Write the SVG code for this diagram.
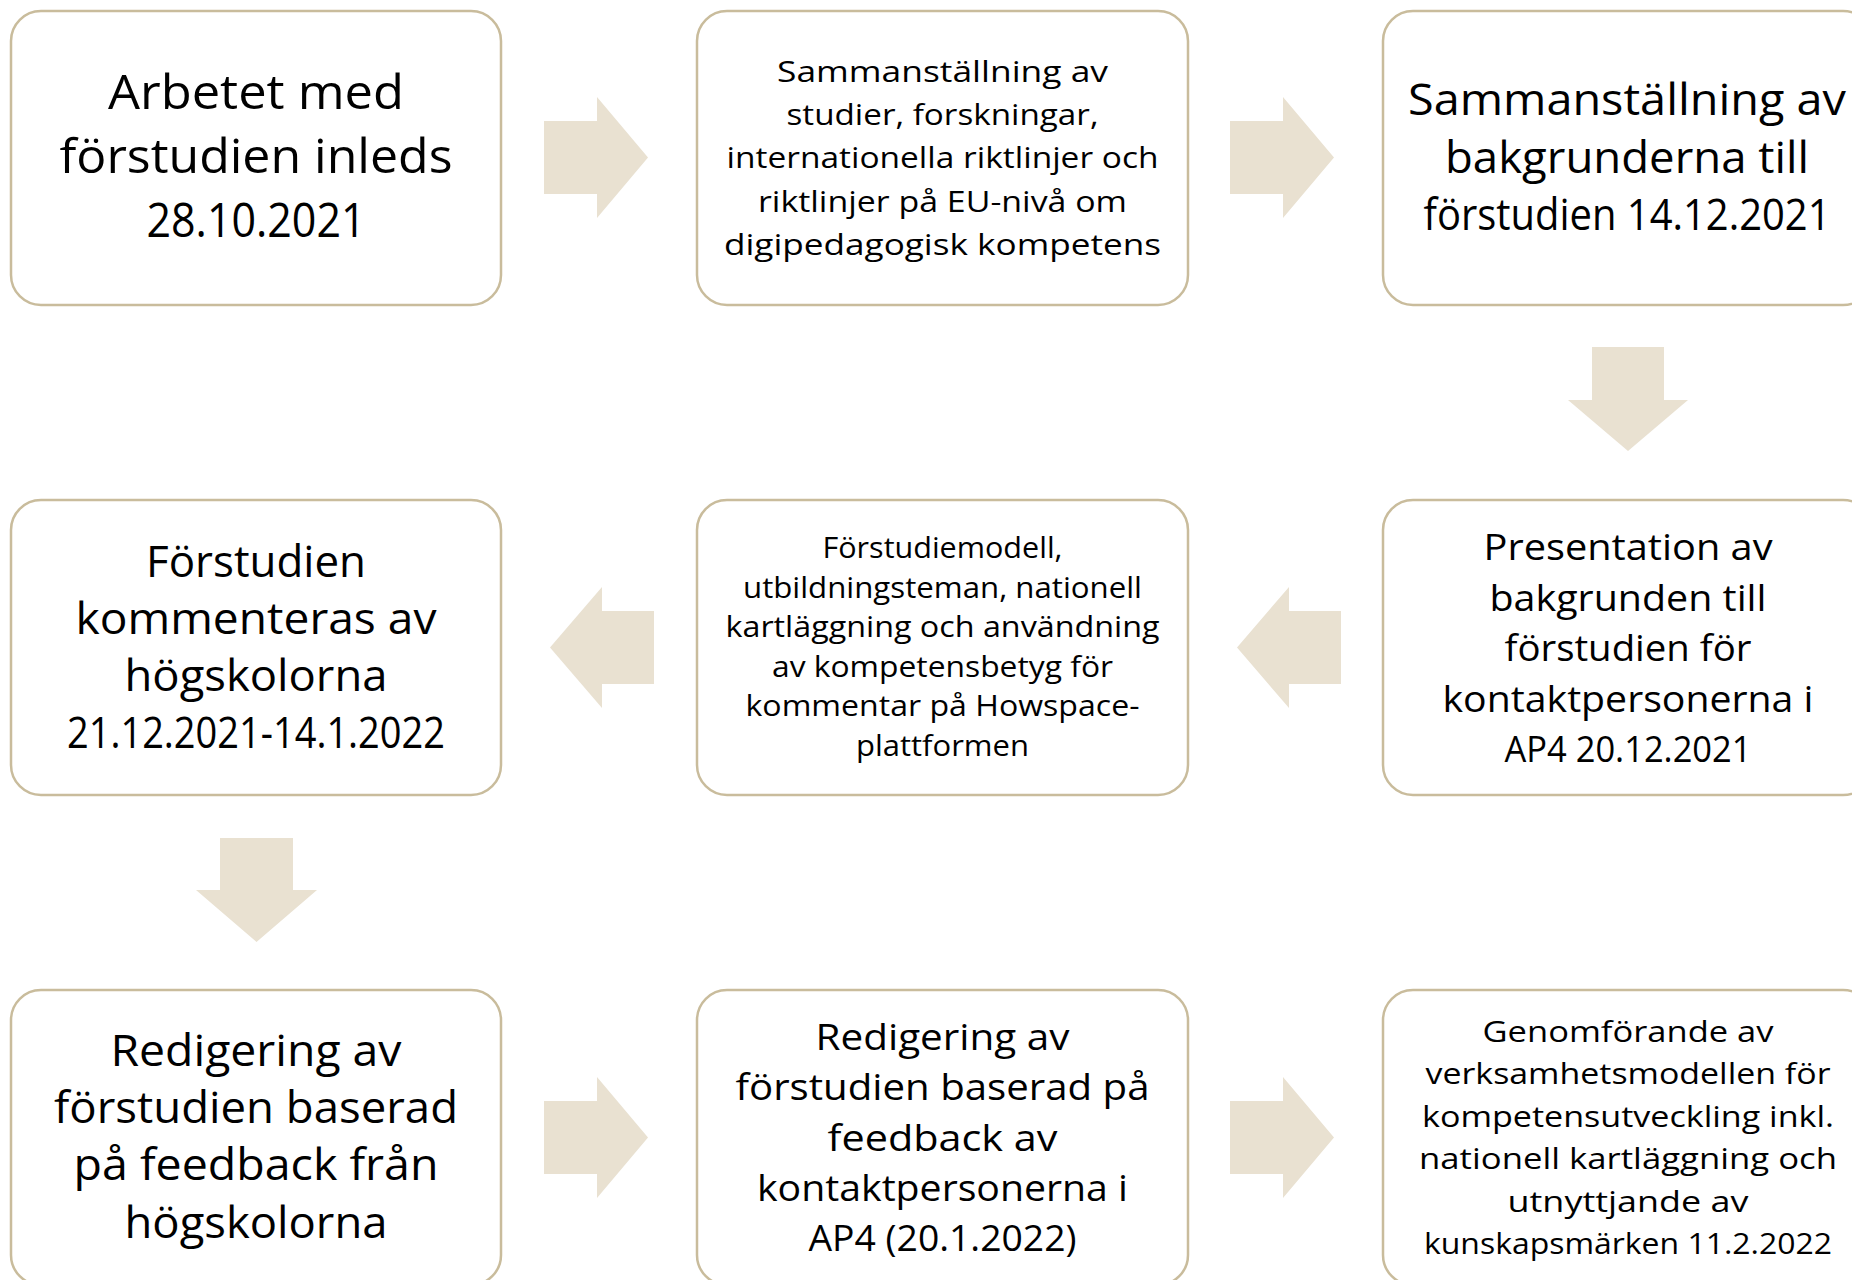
<svg xmlns="http://www.w3.org/2000/svg" width="1852" height="1280" viewBox="0 0 1852 1280">
<style>
.box{fill:#ffffff;stroke:#C9BC9C;stroke-width:2.5}
.arr{fill:#E9E1D1}
text{font-family:"Open Sans","Noto Sans","Liberation Sans",sans-serif;fill:#000000;text-anchor:middle}
.f48{font-size:48px}.f43{font-size:43px}.f37{font-size:37px}.f36{font-size:36px}.f30{font-size:30px}.f29{font-size:29px}
</style>
<rect width="1852" height="1280" fill="#ffffff"/>
<g id="connectors">
<polygon class="arr" points="544,121 597,121 597,97 648,157.5 597,218 597,194 544,194"/>
<polygon class="arr" points="1230,121 1283,121 1283,97 1334,157.5 1283,218 1283,194 1230,194"/>
<polygon class="arr" points="1592,347 1664,347 1664,400 1688,400 1628,451 1568,400 1592,400"/>
<polygon class="arr" points="1341,611 1289,611 1289,587 1237,647.5 1289,708 1289,684 1341,684"/>
<polygon class="arr" points="654,611 602,611 602,587 550,647.5 602,708 602,684 654,684"/>
<polygon class="arr" points="220,838 293,838 293,890 317,890 256.5,942 196,890 220,890"/>
<polygon class="arr" points="544,1101 597,1101 597,1077 648,1137.5 597,1198 597,1174 544,1174"/>
<polygon class="arr" points="1230,1101 1283,1101 1283,1077 1334,1137.5 1283,1198 1283,1174 1230,1174"/>
</g>
<g id="n1">
<rect class="box" x="11" y="11" width="490" height="294" rx="30"/>
<text class="f48" x="256" y="109" textLength="296" lengthAdjust="spacingAndGlyphs">Arbetet med</text>
<text class="f48" x="256" y="173" textLength="393" lengthAdjust="spacingAndGlyphs">förstudien inleds</text>
<text class="f48" x="256" y="237" textLength="219" lengthAdjust="spacingAndGlyphs">28.10.2021</text>
</g>
<g id="n2">
<rect class="box" x="697" y="11" width="491" height="294" rx="30"/>
<text class="f29" x="942.5" y="82" textLength="331" lengthAdjust="spacingAndGlyphs">Sammanställning av</text>
<text class="f29" x="942.5" y="125" textLength="312" lengthAdjust="spacingAndGlyphs">studier, forskningar,</text>
<text class="f29" x="942.5" y="168" textLength="432" lengthAdjust="spacingAndGlyphs">internationella riktlinjer och</text>
<text class="f29" x="942.5" y="212" textLength="369" lengthAdjust="spacingAndGlyphs">riktlinjer på EU-nivå om</text>
<text class="f29" x="942.5" y="255" textLength="437" lengthAdjust="spacingAndGlyphs">digipedagogisk kompetens</text>
</g>
<g id="n3">
<rect class="box" x="1383" y="11" width="490" height="294" rx="30"/>
<text class="f43" x="1627" y="115" textLength="438" lengthAdjust="spacingAndGlyphs">Sammanställning av</text>
<text class="f43" x="1627" y="173" textLength="364" lengthAdjust="spacingAndGlyphs">bakgrunderna till</text>
<text class="f43" x="1627" y="230" textLength="407" lengthAdjust="spacingAndGlyphs">förstudien 14.12.2021</text>
</g>
<g id="n4">
<rect class="box" x="1383" y="500" width="490" height="295" rx="30"/>
<text class="f37" x="1628" y="560" textLength="289" lengthAdjust="spacingAndGlyphs">Presentation av</text>
<text class="f37" x="1628" y="610.5" textLength="277" lengthAdjust="spacingAndGlyphs">bakgrunden till</text>
<text class="f37" x="1628" y="661" textLength="247" lengthAdjust="spacingAndGlyphs">förstudien för</text>
<text class="f37" x="1628" y="711.5" textLength="371" lengthAdjust="spacingAndGlyphs">kontaktpersonerna i</text>
<text class="f37" x="1628" y="762" textLength="247" lengthAdjust="spacingAndGlyphs">AP4 20.12.2021</text>
</g>
<g id="n5">
<rect class="box" x="697" y="500" width="491" height="295" rx="30"/>
<text class="f30" x="942.5" y="558" textLength="240" lengthAdjust="spacingAndGlyphs">Förstudiemodell,</text>
<text class="f30" x="942.5" y="597.5" textLength="399" lengthAdjust="spacingAndGlyphs">utbildningsteman, nationell</text>
<text class="f30" x="942.5" y="637" textLength="434" lengthAdjust="spacingAndGlyphs">kartläggning och användning</text>
<text class="f30" x="942.5" y="676.5" textLength="341" lengthAdjust="spacingAndGlyphs">av kompetensbetyg för</text>
<text class="f30" x="942.5" y="716" textLength="394" lengthAdjust="spacingAndGlyphs">kommentar på Howspace-</text>
<text class="f30" x="942.5" y="755.5" textLength="173" lengthAdjust="spacingAndGlyphs">plattformen</text>
</g>
<g id="n6">
<rect class="box" x="11" y="500" width="490" height="295" rx="30"/>
<text class="f43" x="256" y="577" textLength="220" lengthAdjust="spacingAndGlyphs">Förstudien</text>
<text class="f43" x="256" y="634" textLength="361" lengthAdjust="spacingAndGlyphs">kommenteras av</text>
<text class="f43" x="256" y="691" textLength="263" lengthAdjust="spacingAndGlyphs">högskolorna</text>
<text class="f43" x="256" y="748" textLength="378" lengthAdjust="spacingAndGlyphs">21.12.2021-14.1.2022</text>
</g>
<g id="n7">
<rect class="box" x="11" y="990" width="490" height="295" rx="30"/>
<text class="f43" x="256" y="1066" textLength="291" lengthAdjust="spacingAndGlyphs">Redigering av</text>
<text class="f43" x="256" y="1123" textLength="404" lengthAdjust="spacingAndGlyphs">förstudien baserad</text>
<text class="f43" x="256" y="1180" textLength="365" lengthAdjust="spacingAndGlyphs">på feedback från</text>
<text class="f43" x="256" y="1238" textLength="263" lengthAdjust="spacingAndGlyphs">högskolorna</text>
</g>
<g id="n8">
<rect class="box" x="697" y="990" width="491" height="295" rx="30"/>
<text class="f36" x="942.5" y="1050" textLength="254" lengthAdjust="spacingAndGlyphs">Redigering av</text>
<text class="f36" x="942.5" y="1100" textLength="414" lengthAdjust="spacingAndGlyphs">förstudien baserad på</text>
<text class="f36" x="942.5" y="1150.5" textLength="230" lengthAdjust="spacingAndGlyphs">feedback av</text>
<text class="f36" x="942.5" y="1200.5" textLength="371" lengthAdjust="spacingAndGlyphs">kontaktpersonerna i</text>
<text class="f36" x="942.5" y="1250.5" textLength="268" lengthAdjust="spacingAndGlyphs">AP4 (20.1.2022)</text>
</g>
<g id="n9">
<rect class="box" x="1383" y="990" width="490" height="295" rx="30"/>
<text class="f29" x="1628" y="1041.5" textLength="291" lengthAdjust="spacingAndGlyphs">Genomförande av</text>
<text class="f29" x="1628" y="1084" textLength="405" lengthAdjust="spacingAndGlyphs">verksamhetsmodellen för</text>
<text class="f29" x="1628" y="1126.5" textLength="412" lengthAdjust="spacingAndGlyphs">kompetensutveckling inkl.</text>
<text class="f29" x="1628" y="1169" textLength="418" lengthAdjust="spacingAndGlyphs">nationell kartläggning och</text>
<text class="f29" x="1628" y="1211.5" textLength="241" lengthAdjust="spacingAndGlyphs">utnyttjande av</text>
<text class="f29" x="1628" y="1254" textLength="408" lengthAdjust="spacingAndGlyphs">kunskapsmärken 11.2.2022</text>
</g>
</svg>
